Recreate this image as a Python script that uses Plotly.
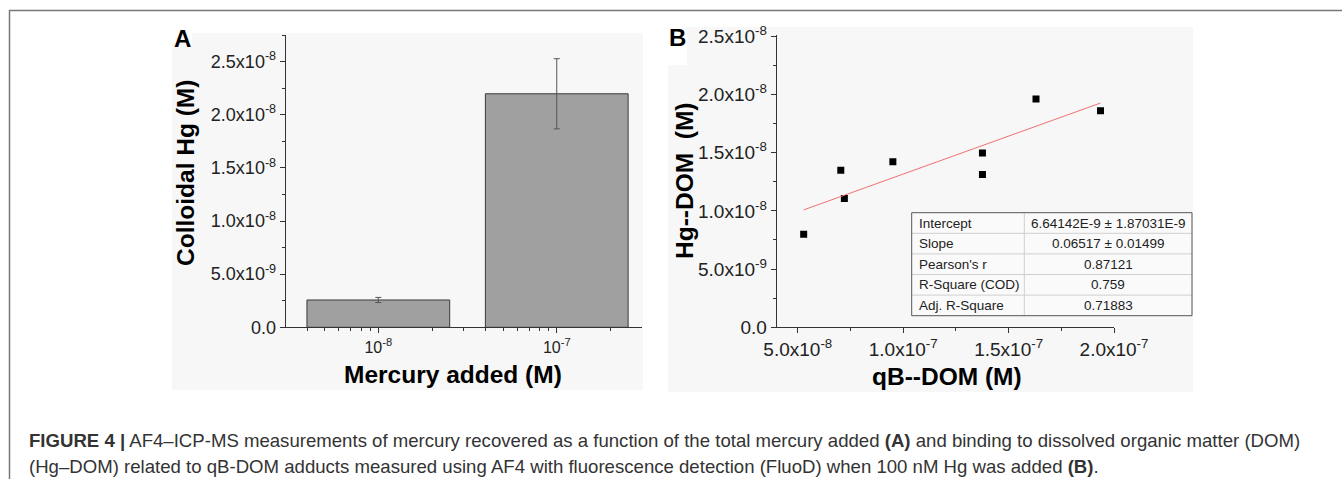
import numpy as np
import plotly.graph_objects as go

W, H = 1342, 479

# ---------------- data ----------------
# Panel A
mercury_added = [1e-8, 1e-7]
colloidal_hg = [2.57e-9, 2.197e-8]
colloidal_hg_err = [2.4e-10, 3.3e-9]
a_x_ticktext = ["10<sup>-8</sup>", "10<sup>-7</sup>"]
a_y_tickvals = [0, 5e-9, 1e-8, 1.5e-8, 2e-8, 2.5e-8]
a_y_ticktext = ["0.0", "5.0x10<sup>-9</sup>", "1.0x10<sup>-8</sup>", "1.5x10<sup>-8</sup>",
                "2.0x10<sup>-8</sup>", "2.5x10<sup>-8</sup>"]

# Panel B
qb_dom = [5.28e-8, 7.04e-8, 7.21e-8, 9.51e-8, 1.376e-7, 1.376e-7, 1.630e-7, 1.936e-7]
hg_dom = [7.98e-9, 1.348e-8, 1.107e-8, 1.421e-8, 1.496e-8, 1.313e-8, 1.96e-8, 1.859e-8]
fit_intercept = 6.64142e-9
fit_slope = 0.06517
b_x_tickvals = [5e-8, 1e-7, 1.5e-7, 2e-7]
b_x_ticktext = ["5.0x10<sup>-8</sup>", "1.0x10<sup>-7</sup>", "1.5x10<sup>-7</sup>", "2.0x10<sup>-7</sup>"]
b_y_tickvals = a_y_tickvals
b_y_ticktext = a_y_ticktext

table_labels = ["Intercept", "Slope", "Pearson's r", "R-Square (COD)", "Adj. R-Square"]
table_values = ["6.64142E-9 ± 1.87031E-9", "0.06517 ± 0.01499", "0.87121", "0.759", "0.71883"]

caption_1 = ("<b>FIGURE 4 |</b> AF4–ICP-MS measurements of mercury recovered as a function of the "
             "total mercury added <b>(A)</b> and binding to dissolved organic matter (DOM)")
caption_2 = ("(Hg–DOM) related to qB-DOM adducts measured using AF4 with fluorescence detection "
             "(FluoD) when 100 nM Hg was added <b>(B)</b>.")

# ---------------- helpers ----------------
FONT = "Liberation Sans, Arial, Helvetica, sans-serif"
AX = "#333333"
PANEL = "#f7f7f7"


def px(x):
    return x / W


def py(y):
    return 1 - y / H


fig = go.Figure()

# Panel A bars
xa_pos = np.log10(mercury_added)
fig.add_trace(go.Bar(
    x=xa_pos, y=colloidal_hg, width=0.8,
    marker=dict(color="#a0a0a0", line=dict(color="#3a3a3a", width=1)),
    error_y=dict(type="data", array=colloidal_hg_err, color="#555555", thickness=1, width=3),
    xaxis="x", yaxis="y", showlegend=False, hoverinfo="skip",
))

# Panel B scatter + fit
fig.add_trace(go.Scatter(
    x=qb_dom, y=hg_dom, mode="markers",
    marker=dict(symbol="square", size=7, color="black"),
    xaxis="x2", yaxis="y2", showlegend=False,
))
fit_x = np.array([min(qb_dom), max(qb_dom)])
fig.add_trace(go.Scatter(
    x=fit_x, y=fit_intercept + fit_slope * fit_x, mode="lines",
    line=dict(color="#f07070", width=1),
    xaxis="x2", yaxis="y2", showlegend=False,
))

# minor tick positions
a_minor_x = [np.log10(k * 10.0 ** e) for e in (-9, -8, -7) for k in range(2, 10)]
a_minor_x = [v for v in a_minor_x if -8.519 <= v <= -6.524]
a_minor_y = [2.5e-9 * (2 * i + 1) for i in range(6)]
b_minor_x = [7.5e-8, 1.25e-7, 1.75e-7]
b_minor_y = [2.5e-9 * (2 * i + 1) for i in range(5)]

common = dict(showline=True, linecolor=AX, linewidth=1, ticks="outside", ticklen=5,
              tickcolor=AX, tickwidth=1, showgrid=False, zeroline=False, tickmode="array",
              automargin=False, fixedrange=True)


def minor(vals):
    return dict(tickmode="array", tickvals=vals, ticks="outside", ticklen=3, tickcolor=AX,
                showgrid=False)


fig.update_layout(
    template="none",
    width=W, height=H, margin=dict(l=0, r=0, t=0, b=0, pad=0), autosize=False,
    paper_bgcolor="white", plot_bgcolor="rgba(0,0,0,0)",
    font=dict(family=FONT, color="#222"),
    bargap=0, showlegend=False,
    xaxis=dict(domain=[px(285.7), px(641.7)], range=[-8.519, -6.524], anchor="y",
               tickvals=xa_pos, ticktext=a_x_ticktext, tickfont=dict(size=16),
               minor=minor(a_minor_x), **common),
    yaxis=dict(domain=[py(327.3), py(35)], range=[0, 2.75e-8], anchor="x",
               tickvals=a_y_tickvals, ticktext=a_y_ticktext, tickfont=dict(size=18),
               minor=minor(a_minor_y), **common),
    xaxis2=dict(domain=[px(776.7), px(1114)], range=[4e-8, 2e-7], anchor="y2",
                tickvals=b_x_tickvals, ticktext=b_x_ticktext, tickfont=dict(size=19),
                minor=minor(b_minor_x), **common),
    yaxis2=dict(domain=[py(327.3), py(35)], range=[0, 2.51e-8], anchor="x2",
                tickvals=b_y_tickvals, ticktext=b_y_ticktext, tickfont=dict(size=19),
                minor=minor(b_minor_y), **common),
)

# background panels + frame
shapes = [
    dict(type="rect", x0=px(192), x1=px(643), y0=py(390), y1=py(33),
         fillcolor=PANEL, line=dict(width=0), layer="below"),
    dict(type="rect", x0=px(172), x1=px(192), y0=py(390), y1=py(43),
         fillcolor=PANEL, line=dict(width=0), layer="below"),
    dict(type="rect", x0=px(687), x1=px(1193), y0=py(392), y1=py(27),
         fillcolor=PANEL, line=dict(width=0), layer="below"),
    dict(type="rect", x0=px(668), x1=px(687), y0=py(392), y1=py(65),
         fillcolor=PANEL, line=dict(width=0), layer="below"),
    # figure frame
    dict(type="line", x0=px(9), x1=1, y0=py(10.5), y1=py(10.5),
         line=dict(color="#777", width=1.5)),
    dict(type="line", x0=px(9.5), x1=px(9.5), y0=0, y1=py(10),
         line=dict(color="#777", width=1.5)),
]

# table (cells from data)
T_X0, T_X1, T_DIV = 911.7, 1192.0, 1024.3
T_Y0, ROW_H = 212.7, 20.6
n_rows = len(table_labels)
T_Y1 = T_Y0 + ROW_H * n_rows
shapes.append(dict(type="rect", x0=px(T_X0), x1=px(T_X1), y0=py(T_Y1), y1=py(T_Y0),
                   fillcolor="#fafafa", line=dict(width=0), layer="above"))
for i in range(1, n_rows):
    yy = T_Y0 + ROW_H * i
    shapes.append(dict(type="line", x0=px(T_X0), x1=px(T_X1), y0=py(yy), y1=py(yy),
                       line=dict(color="#cfcfcf", width=1), layer="above"))
shapes.append(dict(type="line", x0=px(T_DIV), x1=px(T_DIV), y0=py(T_Y1), y1=py(T_Y0),
                   line=dict(color="#cfcfcf", width=1), layer="above"))
shapes.append(dict(type="rect", x0=px(T_X0), x1=px(T_X1), y0=py(T_Y1), y1=py(T_Y0),
                   line=dict(color="#555", width=1), layer="above"))
for s in shapes:
    s.update(xref="paper", yref="paper")
fig.update_layout(shapes=shapes)

ann = [
    dict(text="<b>A</b>", x=px(182), y=py(38), font=dict(size=24, color="black")),
    dict(text="<b>B</b>", x=px(677), y=py(37), font=dict(size=24, color="black")),
    dict(text="<b>Colloidal Hg (M)</b>", x=px(185), y=py(173), textangle=-90,
         font=dict(size=24.5, color="black")),
    dict(text="<b>Mercury added (M)</b>", x=px(453), y=py(374), font=dict(size=24.5, color="black")),
    dict(text="<b>Hg--DOM  (M)</b>", x=px(684), y=py(181), textangle=-90,
         font=dict(size=24.5, color="black")),
    dict(text="<b>qB--DOM (M)</b>", x=px(947), y=py(376), font=dict(size=24.5, color="black")),
]
for i, (lab, val) in enumerate(zip(table_labels, table_values)):
    yc = T_Y0 + ROW_H * (i + 0.5)
    ann.append(dict(text=lab, x=px(T_X0 + 5), y=py(yc), xanchor="left",
                    font=dict(size=13.5, color="#222")))
    ann.append(dict(text=val, x=px((T_DIV + T_X1) / 2), y=py(yc),
                    font=dict(size=13.5, color="#222")))
for a in ann:
    a.setdefault("xanchor", "center")
    a.update(xref="paper", yref="paper", showarrow=False, yanchor="middle")
    fig.add_annotation(**a)

for txt, yy in ((caption_1, 440), (caption_2, 466)):
    fig.add_annotation(text=txt, xref="paper", yref="paper", x=px(27), y=py(yy),
                       xanchor="left", yanchor="middle", showarrow=False,
                       font=dict(size=18.6, color="#333"))

fig.write_html(
    "out.html",
    config={"displayModeBar": False, "staticPlot": True},
    post_script="document.body.style.margin='0';document.body.style.overflow='hidden';",
)
